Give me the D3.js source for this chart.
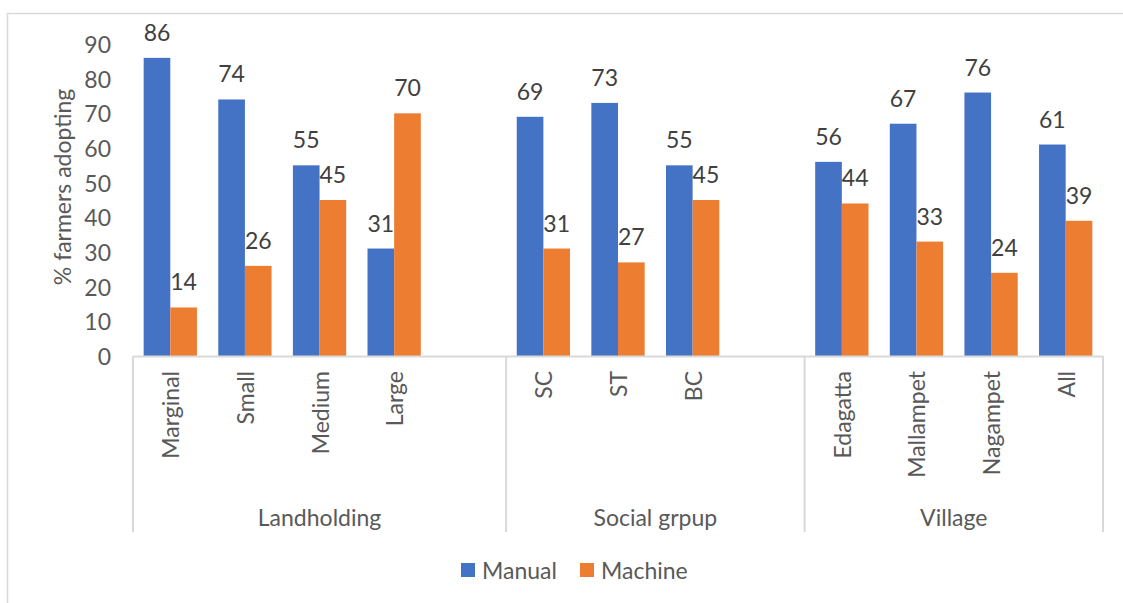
<!DOCTYPE html>
<html>
<head>
<meta charset="utf-8">
<script src="https://cdn.jsdelivr.net/npm/d3@7"></script>
<style>
  html, body { margin: 0; padding: 0; background: #fff; }
  svg text { font-family: Lato, "Open Sans", sans-serif; fill: #595959; }
  svg text.val { fill: #404040; }
</style>
</head>
<body>
<svg id="chart" width="1123" height="603"></svg>
<script>
// grouped bar chart: manual vs machine adoption by landholding, social group, village

const groups = ["Landholding", "Social grpup", "Village"];
const categories = ["Marginal", "Small", "Medium", "Large", "", "SC", "ST", "BC", "", "Edagatta", "Mallampet", "Nagampet", "All"];
const groupOf = [0, 0, 0, 0, 0, 1, 1, 1, 1, 2, 2, 2, 2];
const manual = [86, 74, 55, 31, null, 69, 73, 55, null, 56, 67, 76, 61];
const machine = [14, 26, 45, 70, null, 31, 27, 45, null, 44, 33, 24, 39];
const seriesNames = ["Manual", "Machine"];
const colors = ["#4472C4", "#ED7D31"];
const yTicks = [0, 10, 20, 30, 40, 50, 60, 70, 80, 90];

const svg = d3.select("#chart");
const plotLeft = 133, plotRight = 1103, plotBase = 356, plotTop = 44;
const fs = 23;

// outer frame
svg.append("rect")
  .attr("x", 7.5).attr("y", 13.5)
  .attr("width", 1130).attr("height", 600)
  .attr("fill", "none").attr("stroke", "#d9d9d9").attr("stroke-width", 1.5);

const x = d3.scaleBand().domain(d3.range(categories.length)).range([plotLeft, plotRight]).padding(0);
const xs = d3.scaleBand().domain([0, 1]).range([0, x.bandwidth()]).paddingInner(0).paddingOuter(0.4);
const y = d3.scaleLinear().domain([0, 90]).range([plotBase, plotTop]);

// y tick labels (no axis line)
svg.append("g")
  .selectAll("text")
  .data(yTicks)
  .enter().append("text")
  .attr("x", 111)
  .attr("y", d => y(d))
  .attr("text-anchor", "end")
  .attr("dominant-baseline", "central")
  .attr("font-size", fs)
  .text(d => d);

svg.append("text")
  .attr("transform", `translate(62,${(y(0) + y(90)) / 2 - 13}) rotate(-90)`)
  .attr("text-anchor", "middle")
  .attr("dominant-baseline", "central")
  .attr("font-size", fs)
  .text("% farmers adopting");

// bars
const rows = categories.map((c, i) => ({ i, vals: [manual[i], machine[i]] }));
const slot = svg.append("g").selectAll("g")
  .data(rows)
  .enter().append("g")
  .attr("transform", d => `translate(${x(d.i)},0)`);

slot.selectAll("rect")
  .data(d => d.vals.map((v, k) => ({ v, k })).filter(e => e.v != null))
  .enter().append("rect")
  .attr("x", e => xs(e.k))
  .attr("width", xs.bandwidth())
  .attr("y", e => y(e.v))
  .attr("height", e => y(0) - y(e.v))
  .attr("fill", e => colors[e.k]);

slot.selectAll("text.val")
  .data(d => d.vals.map((v, k) => ({ v, k })).filter(e => e.v != null))
  .enter().append("text")
  .attr("class", "val")
  .attr("x", e => xs(e.k) + xs.bandwidth() / 2)
  .attr("y", e => y(e.v) - 26)
  .attr("text-anchor", "middle")
  .attr("dominant-baseline", "central")
  .attr("font-size", fs)
  .text(e => e.v);

// category axis line and group dividers
svg.append("line")
  .attr("x1", plotLeft).attr("x2", plotRight)
  .attr("y1", plotBase + 0.5).attr("y2", plotBase + 0.5)
  .attr("stroke", "#d9d9d9").attr("stroke-width", 2);

const bounds = groups.map((g, gi) => {
  const idx = groupOf.map((v, i) => v === gi ? i : -1).filter(i => i >= 0);
  return { name: g, x0: x(idx[0]), x1: x(idx[idx.length - 1]) + x.bandwidth() };
});
const divX = [bounds[0].x0].concat(bounds.map(b => b.x1));

svg.append("g").selectAll("line")
  .data(divX)
  .enter().append("line")
  .attr("x1", d => d).attr("x2", d => d)
  .attr("y1", plotBase).attr("y2", 532)
  .attr("stroke", "#d9d9d9").attr("stroke-width", 2);

svg.append("g").selectAll("text")
  .data(categories.map((c, i) => ({ c, i })).filter(d => d.c))
  .enter().append("text")
  .attr("transform", d => `translate(${x(d.i) + x.bandwidth() / 2},371) rotate(-90)`)
  .attr("text-anchor", "end")
  .attr("dominant-baseline", "central")
  .attr("font-size", fs)
  .text(d => d.c);

svg.append("g").selectAll("text")
  .data(bounds)
  .enter().append("text")
  .attr("x", d => (d.x0 + d.x1) / 2)
  .attr("y", 517)
  .attr("text-anchor", "middle")
  .attr("dominant-baseline", "central")
  .attr("font-size", fs)
  .text(d => d.name);

// legend
const legend = svg.append("g");
const legX = [461, 580];
seriesNames.forEach((s, k) => {
  legend.append("rect")
    .attr("x", legX[k]).attr("y", 563)
    .attr("width", 14).attr("height", 14)
    .attr("fill", colors[k]);
  legend.append("text")
    .attr("x", legX[k] + 21).attr("y", 570)
    .attr("dominant-baseline", "central")
    .attr("font-size", fs)
    .text(s);
});
</script>
</body>
</html>
